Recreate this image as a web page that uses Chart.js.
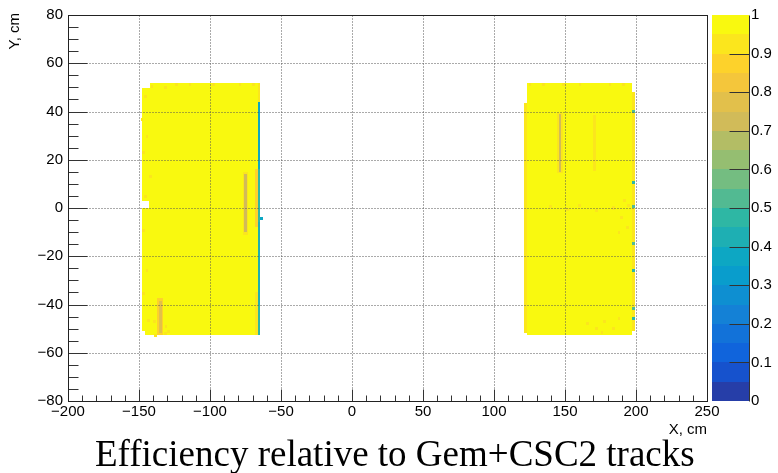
<!DOCTYPE html>
<html>
<head>
<meta charset="utf-8">
<script src="https://cdn.jsdelivr.net/npm/chart.js@4.4.1/dist/chart.umd.min.js"></script>
<style>
  html, body { margin: 0; padding: 0; background: #fff; }
  canvas { display: block; }
</style>
</head>
<body>
<canvas id="eff" width="778" height="473"></canvas>
<script>
// ---- axis ranges and tick steps ----
const xRange = [-200, 250];
const yRange = [-80, 80];
const zRange = [0, 1];
const xStep = 50, xMinorStep = 10;
const yStep = 20, yMinorStep = 5;
const zStep = 0.1;
const nContours = 20;

// histogram bin size (cm)
const binX = 2;
const binY = 1.25;

// efficiency patches: [xFrom, xTo, yFrom, yTo, efficiency], X/Y in cm
const leftChamber = [
  [-142, -66.5, -52.5, 51.7, 0.99],
  [-148, -142, 3, 49.6, 0.99],
  [-143, -142, 0, 3, 0.99],
  [-148, -142, -51, 0, 0.99],
  [-146, -142, -52.5, -51, 0.99],
  [-68.5, -66.5, -8, 16, 0.86],
  [-68.5, -66.5, -52.5, -35, 0.92],
  [-66.5, -64.5, 44, 51.7, 0.93],
  [-66.5, -64.5, 16, 44, 0.38],
  [-66.5, -64.5, -6, 16, 0.48],
  [-66.5, -64.5, -40, -6, 0.41],
  [-66.5, -64.5, -52.5, -40, 0.47]
];

const leftStripes = [
  [-77, -73, -11, 15, 0.9],
  [-76, -74, -10, 14, 0.72],
  [-137, -133, -52.5, -37.5, 0.87],
  [-136, -134, -52, -38.5, 0.77]
];

const rightChamber = [
  [123, 197.5, -52.5, 51.7, 0.99],
  [121, 123, -52, 43.5, 0.92],
  [197.5, 199, -51, 48, 0.91]
];

const rightStripes = [
  [144.5, 148.5, 14.5, 39.5, 0.9],
  [145.5, 147.5, 15, 39, 0.72],
  [170, 171.5, 15.5, 38.5, 0.91]
];

// single bins: [x, y, efficiency]
const singleBins = [
  [-145.5, 46.4, 0.91], [-147.9, 36.7, 0.9], [-144.4, 29.8, 0.92],
  [-146.7, 22.9, 0.9], [-142, 13.2, 0.92], [-145.6, 4.9, 0.9],
  [-140.8, 50.5, 0.91], [-131.5, 49.8, 0.92], [-146.7, -9.2, 0.9],
  [-144.4, -25.8, 0.91], [-146.7, -35.5, 0.9], [-143.2, -46.6, 0.91],
  [-138.5, -52.8, 0.9], [-131.5, -52.1, 0.92], [-139, -47, 0.92],
  [-131, -49, 0.93], [-129, -51, 0.92],
  [-123.5, 51, 0.91], [-114.1, 51, 0.92], [-97.7, 51, 0.91],
  [-78.9, 51, 0.9], [-69.5, 51, 0.92], [-64, -4.5, 0.35],
  [125.4, 51, 0.92], [134.7, 51, 0.91], [148.8, 51, 0.92],
  [160.6, 51, 0.91], [181.7, 51, 0.92], [191.1, 51, 0.91],
  [140, 0.5, 0.93], [152, -0.5, 0.93], [160, 1, 0.92], [172, -1, 0.93],
  [184, 0, 0.92], [190, -4, 0.92], [194, -8, 0.93], [192, 3, 0.92],
  [188, -10, 0.93], [195, 1, 0.92],
  [166, -48, 0.93], [172, -50, 0.92], [178, -47, 0.93], [184, -50, 0.92],
  [188, -46, 0.93], [176, -51.5, 0.93],
  [198, 40, 0.5], [198, 10.4, 0.45], [198, 0.7, 0.5],
  [198, -14.7, 0.5], [198, -25.8, 0.45], [198, -41.6, 0.5],
  [198, -45.7, 0.45]
];

// ---- ROOT "bird" palette ----
const birdStops = [0.0000, 0.1250, 0.2500, 0.3750, 0.5000, 0.6250, 0.7500, 0.8750, 1.0000];
const birdRed   = [0.2082, 0.0592, 0.0780, 0.0232, 0.1802, 0.5301, 0.8186, 0.9956, 0.9764];
const birdGreen = [0.1664, 0.3599, 0.5041, 0.6419, 0.7178, 0.7492, 0.7328, 0.7862, 0.9832];
const birdBlue  = [0.5293, 0.8684, 0.8385, 0.7914, 0.6425, 0.4662, 0.3499, 0.1968, 0.0539];

function buildPalette(n) {
  const cols = [];
  for (let s = 1; s < birdStops.length; s++) {
    const nc = Math.floor(n * birdStops[s]) - Math.floor(n * birdStops[s - 1]);
    for (let c = 0; c < nc; c++) {
      cols.push([
        birdRed[s - 1] + c * (birdRed[s] - birdRed[s - 1]) / nc,
        birdGreen[s - 1] + c * (birdGreen[s] - birdGreen[s - 1]) / nc,
        birdBlue[s - 1] + c * (birdBlue[s] - birdBlue[s - 1]) / nc
      ]);
    }
  }
  return cols;
}
const palette = buildPalette(255);

function contourColor(c) {
  const idx = Math.min(palette.length - 1, Math.floor((c + 0.99) * palette.length / nContours));
  const p = palette[idx];
  return 'rgb(' + Math.round(p[0] * 255) + ',' + Math.round(p[1] * 255) + ',' + Math.round(p[2] * 255) + ')';
}
function effColor(v) {
  let c = Math.floor(0.01 + (v - zRange[0]) * nContours / (zRange[1] - zRange[0]));
  c = Math.max(0, Math.min(nContours - 1, c));
  return contourColor(c);
}

function fmtAxis(v) {
  return v < 0 ? '\u2212' + Math.abs(v) : String(v);
}

const tickFont = { family: 'Liberation Sans', size: 15 };

// ---- plugin: histogram cells, ROOT-style frame, ticks, grid and palette ----
const histPlugin = {
  id: 'hist2d',
  beforeDatasetsDraw(chart) {
    const ctx = chart.ctx;
    const xs = chart.scales.x, ys = chart.scales.y;
    const area = chart.chartArea;
    ctx.save();
    ctx.beginPath();
    ctx.rect(area.left, area.top, area.right - area.left, area.bottom - area.top);
    ctx.clip();
    const fillPatch = (x0, x1, y0, y1, v) => {
      const px0 = Math.round(xs.getPixelForValue(x0));
      const px1 = Math.round(xs.getPixelForValue(x1));
      const py0 = Math.round(ys.getPixelForValue(y1));
      const py1 = Math.round(ys.getPixelForValue(y0));
      ctx.fillStyle = effColor(v);
      ctx.fillRect(px0, py0, Math.max(1, px1 - px0), Math.max(1, py1 - py0));
    };
    [leftChamber, rightChamber, leftStripes, rightStripes].forEach(list =>
      list.forEach(p => fillPatch(p[0], p[1], p[2], p[3], p[4])));
    singleBins.forEach(b => fillPatch(b[0] - binX / 2, b[0] + binX / 2, b[1] - binY / 2, b[1] + binY / 2, b[2]));
    ctx.restore();
  },
  afterDatasetsDraw(chart) {
    const ctx = chart.ctx;
    const xs = chart.scales.x, ys = chart.scales.y, zs = chart.scales.z;
    const a = chart.chartArea;
    const L = Math.round(a.left) + 0.5, R = Math.round(a.right) + 0.5;
    const T = Math.round(a.top) + 0.5, B = Math.round(a.bottom) + 0.5;
    ctx.save();

    // dotted grid
    ctx.strokeStyle = '#555';
    ctx.lineWidth = 1;
    ctx.setLineDash([1, 2]);
    ctx.beginPath();
    for (let v = xRange[0] + xStep; v < xRange[1]; v += xStep) {
      const px = Math.round(xs.getPixelForValue(v)) + 0.5;
      ctx.moveTo(px, T); ctx.lineTo(px, B);
    }
    for (let v = yRange[0] + yStep; v < yRange[1]; v += yStep) {
      const py = Math.round(ys.getPixelForValue(v)) + 0.5;
      ctx.moveTo(L, py); ctx.lineTo(R, py);
    }
    ctx.stroke();
    ctx.setLineDash([]);

    // inner tick marks
    ctx.strokeStyle = '#333';
    ctx.beginPath();
    for (let v = yRange[0]; v <= yRange[1]; v += yMinorStep) {
      const py = Math.round(ys.getPixelForValue(v)) + 0.5;
      const len = (v % yStep === 0) ? 19 : 10;
      ctx.moveTo(L, py); ctx.lineTo(L + len, py);
    }
    for (let v = xRange[0]; v <= xRange[1]; v += xMinorStep) {
      const px = Math.round(xs.getPixelForValue(v)) + 0.5;
      const len = (v % xStep === 0) ? 12 : 6;
      ctx.moveTo(px, B); ctx.lineTo(px, B - len);
    }
    ctx.stroke();

    // frame
    ctx.strokeStyle = '#222';
    ctx.strokeRect(L, T, R - L, B - T);

    // palette bar
    const bx0 = Math.round(a.right) + 5, bx1 = Math.round(a.right) + 42;
    for (let c = 0; c < nContours; c++) {
      const v0 = zRange[0] + c * (zRange[1] - zRange[0]) / nContours;
      const v1 = zRange[0] + (c + 1) * (zRange[1] - zRange[0]) / nContours;
      const py0 = Math.round(zs.getPixelForValue(v1));
      const py1 = Math.round(zs.getPixelForValue(v0));
      ctx.fillStyle = contourColor(c);
      ctx.fillRect(bx0, py0, bx1 - bx0, py1 - py0);
    }
    ctx.strokeStyle = '#333';
    ctx.beginPath();
    ctx.moveTo(bx1 + 0.5, T); ctx.lineTo(bx1 + 0.5, B);
    for (let k = 1; k < Math.round((zRange[1] - zRange[0]) / zStep); k++) {
      const py = Math.round(zs.getPixelForValue(zRange[0] + k * zStep)) + 0.5;
      ctx.moveTo(bx1 + 0.5, py); ctx.lineTo(bx1 - 19.5, py);
    }
    ctx.stroke();

    // axis titles
    ctx.fillStyle = '#000';
    ctx.font = '15px "Liberation Sans"';
    ctx.textAlign = 'right';
    ctx.textBaseline = 'alphabetic';
    ctx.fillText('X, cm', a.right, 433.5);
    ctx.save();
    ctx.translate(19, a.top - 2);
    ctx.rotate(-Math.PI / 2);
    ctx.fillText('Y, cm', 0, 0);
    ctx.restore();

    // histogram title
    ctx.font = '37px "Liberation Serif"';
    ctx.textAlign = 'left';
    ctx.fillText('Efficiency relative to Gem+CSC2 tracks', 95, 466);
    ctx.restore();
  }
};

new Chart(document.getElementById('eff'), {
  type: 'scatter',
  data: { datasets: [{ data: [], pointRadius: 0 }] },
  options: {
    responsive: false,
    animation: false,
    events: [],
    layout: { padding: { left: 0, right: 0, top: 15, bottom: 0 } },
    plugins: { legend: { display: false }, tooltip: { enabled: false }, title: { display: false } },
    scales: {
      x: {
        type: 'linear', position: 'bottom', min: xRange[0], max: xRange[1],
        ticks: { stepSize: xStep, autoSkip: false, maxRotation: 0, minRotation: 0, padding: 2,
                 color: '#000', font: tickFont, callback: fmtAxis },
        grid: { display: false, drawTicks: false },
        border: { display: false },
        afterFit(s) { s.height = 72; }
      },
      y: {
        type: 'linear', position: 'left', min: yRange[0], max: yRange[1],
        ticks: { stepSize: yStep, autoSkip: false, padding: 5, color: '#000', font: tickFont, callback: fmtAxis },
        grid: { display: false, drawTicks: false },
        border: { display: false },
        afterFit(s) { s.width = 68; }
      },
      z: {
        type: 'linear', position: 'right', min: zRange[0], max: zRange[1],
        ticks: { stepSize: zStep, autoSkip: false, padding: 2, color: '#000', font: tickFont,
                 callback: v => String(Number(v.toFixed(1))) },
        grid: { display: false, drawTicks: true, tickLength: 42 },
        border: { display: false },
        afterFit(s) { s.width = 71; }
      }
    }
  },
  plugins: [histPlugin]
});
</script>
</body>
</html>
